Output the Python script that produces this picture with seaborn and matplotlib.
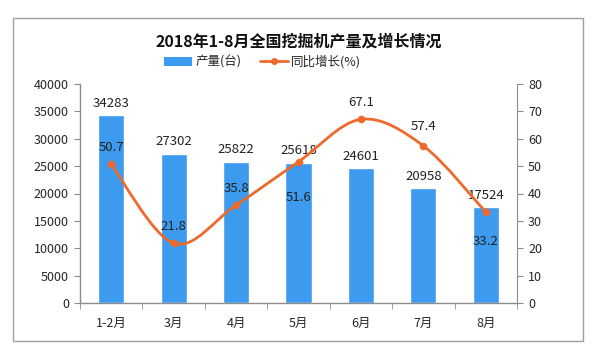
import numpy as np
import pandas as pd
import matplotlib
matplotlib.use("Agg")
import matplotlib.pyplot as plt
import seaborn as sns
from matplotlib.path import Path
from matplotlib.patches import PathPatch, Rectangle
from matplotlib.lines import Line2D
from matplotlib.patches import Patch

categories = ["1-2月", "3月", "4月", "5月", "6月", "7月", "8月"]
production = [34283, 27302, 25822, 25618, 24601, 20958, 17524]
growth = [50.7, 21.8, 35.8, 51.6, 67.1, 57.4, 33.2]
left_ticks = [0, 5000, 10000, 15000, 20000, 25000, 30000, 35000, 40000]
right_ticks = [0, 10, 20, 30, 40, 50, 60, 70, 80]
title = "2018年1-8月全国挖掘机产量及增长情况"
bar_name = "产量(台)"
line_name = "同比增长(%)"

sns.set_style("white")
plt.rcParams['font.family'] = ['Noto Sans CJK SC', 'DejaVu Sans']

BAR_C = "#3D9BEF"
LINE_C = "#EE6A2C"
AX_C = "#8C8C8C"

fig = plt.figure(figsize=(5.97, 3.49), dpi=100)
fig.patches.append(Rectangle((13/597, 1-341/349), 570/597, 323/349, transform=fig.transFigure,
                             fill=False, edgecolor="#A0A0A0", linewidth=1))
ax = fig.add_axes([80/597, 1-303/349, 437/597, 219/349])

df = pd.DataFrame({"cat": categories, "prod": production, "growth": growth})
sns.barplot(data=df, x="cat", y="prod", color=BAR_C, width=0.42, saturation=1, ax=ax)
ax.set_xlim(-0.5, len(categories) - 0.5)
ax.set_ylim(0, 40000)
ax.set_yticks(left_ticks)
ax.set_yticklabels([str(t) for t in left_ticks], fontsize=9)
ax.set_xlabel("")
ax.set_ylabel("")
ax.set_xticks(np.arange(len(categories)))
ax.set_xticklabels(categories, fontsize=9)
ax.tick_params(axis='x', length=0, pad=10)
ax.set_xticks(np.arange(len(categories) + 1) - 0.5, minor=True)
ax.tick_params(axis='x', which='minor', length=4, color=AX_C, direction='out', bottom=True)
ax.tick_params(axis='y', length=4, color=AX_C, direction='out', left=True, pad=4)
for s in ["top", "right"]:
    ax.spines[s].set_visible(False)
for s in ["left", "bottom"]:
    ax.spines[s].set_color(AX_C)
    ax.spines[s].set_linewidth(1)

for i, v in enumerate(production):
    ax.annotate(str(v), (i, v), xytext=(0, 4), textcoords="offset points",
                ha="center", va="bottom", fontsize=9.5, color="#222222")

ax2 = ax.twinx()
ax2.set_ylim(0, 80)
ax2.set_yticks(right_ticks)
ax2.set_yticklabels([str(t) for t in right_ticks], fontsize=9)
ax2.tick_params(axis='y', length=4, color=AX_C, direction='out', right=True, pad=4)
for s in ["top", "left", "bottom"]:
    ax2.spines[s].set_visible(False)
ax2.spines["right"].set_color(AX_C)
ax2.grid(False)
ax.grid(False)

# smooth line through the data points (cubic Bezier segments)
xs = np.arange(len(growth), dtype=float)
ys = np.array(growth, dtype=float)
pts = np.column_stack([xs, ys])
verts = [pts[0]]
codes = [Path.MOVETO]
n = len(pts)
for i in range(n - 1):
    p0 = pts[i - 1] if i > 0 else pts[i]
    p1 = pts[i]
    p2 = pts[i + 1]
    p3 = pts[i + 2] if i + 2 < n else pts[i + 1]
    c1 = p1 + (p2 - p0) / 6.0
    c2 = p2 - (p3 - p1) / 6.0
    verts += [c1, c2, p2]
    codes += [Path.CURVE4] * 3
ax2.add_patch(PathPatch(Path(verts, codes), fill=False, edgecolor=LINE_C, linewidth=2, zorder=3))
sns.scatterplot(x=xs, y=ys, color=LINE_C, s=30, edgecolor=LINE_C, linewidth=0, ax=ax2, zorder=4)

label_offsets = [12, 12, 12, -26, 12, 14, -21]
for i, v in enumerate(growth):
    ax2.annotate(f"{v}", (i, v), xytext=(0, label_offsets[i]), textcoords="offset points",
                 ha="center", va="center", fontsize=9.5, color="#222222", zorder=5)

fig.text(0.5, 1 - 42/349, title, ha="center", va="center", fontsize=11.5, fontweight="bold", color="#111111")

handles = [Patch(facecolor=BAR_C, edgecolor="none"),
           Line2D([0], [0], color=LINE_C, lw=2, marker="o", markersize=4)]
fig.legend(handles, [bar_name, line_name], loc="center", bbox_to_anchor=(0.44, 1 - 62/349),
           ncol=2, frameon=False, fontsize=9, handlelength=2.2, handleheight=0.7,
           columnspacing=1.5, handletextpad=0.3)

fig.savefig("out.png", dpi=100)
